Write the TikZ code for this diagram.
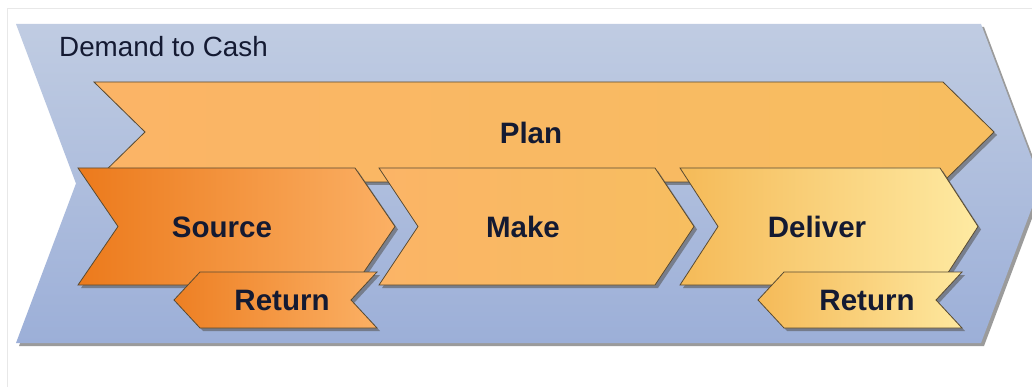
\documentclass[tikz,border=0pt]{standalone}
\usepackage{fontspec}
\setmainfont{Liberation Sans}
\begin{document}
% chevron pointing right: x-left, x-right, y-top, y-bottom, depth
\newcommand\rchev[5]{(#1,#3) -- (#2,#3) -- ({#2+#5},{(#3+#4)/2}) -- (#2,#4) -- (#1,#4) -- ({#1+#5},{(#3+#4)/2}) -- cycle}
% chevron pointing left
\newcommand\lchev[5]{(#1,#3) -- (#2,#3) -- ({#2-#5},{(#3+#4)/2}) -- (#2,#4) -- (#1,#4) -- ({#1-#5},{(#3+#4)/2}) -- cycle}
\definecolor{blueTop}{RGB}{192,204,226}
\definecolor{blueBot}{RGB}{156,175,216}
\definecolor{inkNavy}{RGB}{20,26,50}
\definecolor{edgeBrown}{RGB}{88,74,50}
\definecolor{orDark}{RGB}{236,122,28}
\definecolor{orLight}{RGB}{251,176,100}
\definecolor{orMid}{RGB}{251,180,102}
\definecolor{orWarm}{RGB}{247,190,96}
\definecolor{goldL}{RGB}{245,186,88}
\definecolor{paleY}{RGB}{254,234,162}
\begin{tikzpicture}[x=1pt,y=-1pt,
  dropshadow/.style={fill=gray!70!black,fill opacity=0.6,shift={(3,3)}},
  stage/.style={draw=edgeBrown,line width=0.8pt},
  bigtext/.style={font=\fontsize{29.5}{33}\selectfont\bfseries,text=inkNavy,inner sep=0pt},
  titletext/.style={font=\fontsize{27.8}{31}\selectfont,text=inkNavy,inner sep=0pt,anchor=west}]
\useasboundingbox (0,0) rectangle (1032,387);
\fill[white] (0,0) rectangle (1032,387);
\draw[gray!18,line width=0.8pt] (7.5,387) -- (7.5,8) -- (1032,8);

% outer process band
\fill[dropshadow] \rchev{16}{981}{24}{343}{60};
\shade[top color=blueTop,bottom color=blueBot] \rchev{16}{981}{24}{343}{60};
\node[titletext] (d2c) at (59,47) {Demand to Cash};

% plan band
\fill[dropshadow] \rchev{94}{943}{82}{182}{51};
\shade[stage,left color=orMid,right color=orWarm] \rchev{94}{943}{82}{182}{51};
\node[bigtext] (plan) at (531,133) {Plan};

% source / make / deliver
\fill[dropshadow] \rchev{78}{355}{168}{285}{40};
\shade[stage,left color=orDark,right color=orLight] \rchev{78}{355}{168}{285}{40};
\fill[dropshadow] \rchev{379}{655}{168}{285}{39};
\shade[stage,left color=orMid,right color=orWarm] \rchev{379}{655}{168}{285}{39};
\fill[dropshadow] \rchev{680}{940}{168}{285}{38};
\shade[stage,left color=goldL,right color=paleY] \rchev{680}{940}{168}{285}{38};
\node[bigtext] (source) at (222,227) {Source};
\node[bigtext] (make) at (523,227) {Make};
\node[bigtext] (deliver) at (817,227) {Deliver};

% return flows
\fill[dropshadow] \lchev{200}{377}{272}{328}{26};
\shade[stage,left color=orDark!90!orLight,right color=orLight] \lchev{200}{377}{272}{328}{26};
\fill[dropshadow] \lchev{784}{962}{272}{328}{26};
\shade[stage,left color=goldL,right color=paleY!95!goldL] \lchev{784}{962}{272}{328}{26};
\node[bigtext] (ret1) at (282,300) {Return};
\node[bigtext] (ret2) at (867,300) {Return};
\end{tikzpicture}
\end{document}
